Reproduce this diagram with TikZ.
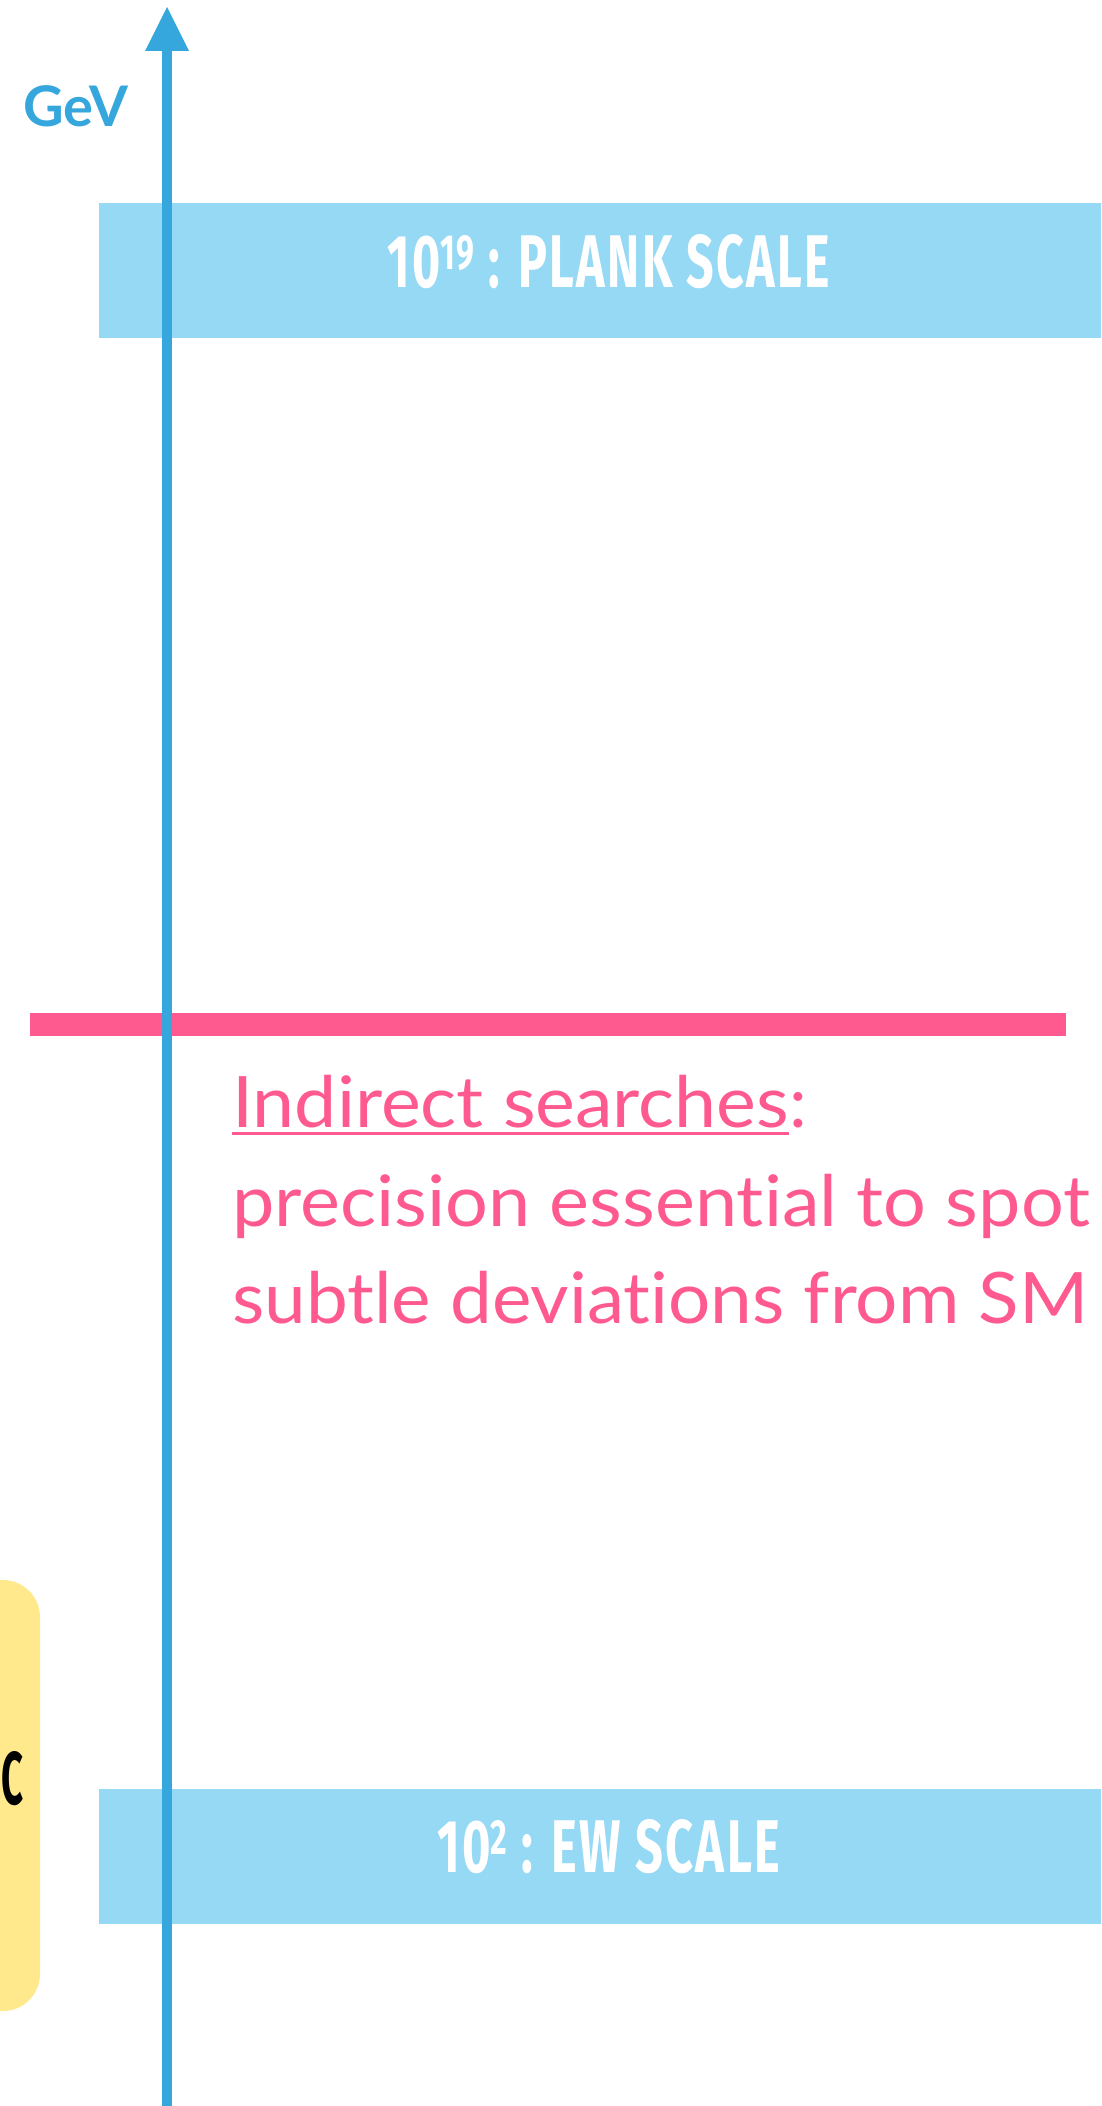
\documentclass[tikz,border=0pt]{standalone}
\usepackage{fontspec}
\usepackage{graphicx}
\setmainfont{Lato}[Ligatures=NoCommon]
\newfontfamily\scalefont{Fira Sans}[Ligatures=NoCommon]
\definecolor{axisblue}{RGB}{53,167,220}
\definecolor{bandblue}{RGB}{150,217,245}
\definecolor{searchpink}{RGB}{255,90,143}
\definecolor{lhcyellow}{RGB}{255,233,140}
% superscript whose top sits on the cap line
\newcommand{\topsup}[1]{\sbox0{0}\raisebox{\dimexpr\ht0*34/100\relax}{\scalebox{0.66}{#1}}}
\tikzset{
  band/.style={fill=bandblue, inner sep=0pt, anchor=north west},
  scalelabel/.style={text=white, inner sep=0pt, anchor=base west},
  pinktext/.style={text=searchpink, inner sep=0pt, anchor=base west, font=\fontsize{71}{71}\selectfont},
}
\begin{document}
\begin{tikzpicture}[x=1pt,y=-1pt]
\useasboundingbox (0,0) rectangle (1101,2106);
\clip (0,0) rectangle (1101,2106);

% collider box on the left edge
\fill[lhcyellow, rounded corners=37pt] (-80,1580) rectangle (40,2011);
\node[inner sep=0pt, anchor=base east] (lhc) at (24,1804)
  {\resizebox{22pt}{53pt}{\scalefont\bfseries C}};

% energy scale bands
\node[band, minimum width=1010, minimum height=135] (plankband) at (99,203) {};
\node[scalelabel] (plank) at (387,287)
  {\resizebox{443pt}{53pt}{\scalefont\bfseries\addfontfeatures{LetterSpace=5} 10\topsup{19} : PLANK SCALE}};
\node[band, minimum width=1010, minimum height=135] (ewband) at (99,1789) {};
\node[scalelabel] (ew) at (437,1872)
  {\resizebox{343pt}{53pt}{\scalefont\bfseries\addfontfeatures{LetterSpace=5} 10\topsup{2} : EW SCALE}};

% reach of indirect searches
\node[fill=searchpink, inner sep=0pt, minimum width=1036, minimum height=23, anchor=north west] (reach) at (30,1013) {};
\node[pinktext] (ind) at (232,1127) {\resizebox{557pt}{\height}{Indirect searches}};
\node[pinktext] (colon) at (ind.base east) {:};
\draw[searchpink, line width=3pt] ([yshift=-6pt]ind.base west) -- ([yshift=-6pt]ind.base east);
\node[pinktext] (prec) at (232,1226) {\resizebox{858pt}{\height}{precision essential to spot}};
\node[pinktext] (subtle) at (232,1323) {\resizebox{856pt}{\height}{subtle deviations from SM}};

% energy axis
\node[text=axisblue, inner sep=0pt, anchor=base west, font=\fontsize{56}{56}\selectfont\bfseries] (gev) at (23,127) {GeV};
\coordinate (axisbot) at (167,2110);
\coordinate (axistop) at (167,50);
\draw[axisblue, line width=10pt] (axisbot) -- (axistop);
\fill[axisblue] (145,51) -- (167,7) -- (189,51) -- cycle;
\end{tikzpicture}
\end{document}
